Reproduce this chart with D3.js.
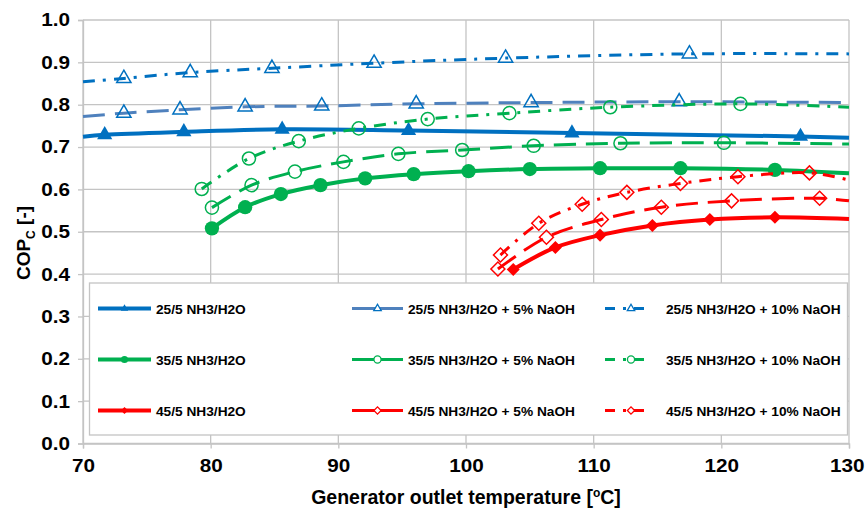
<!DOCTYPE html>
<html>
<head>
<meta charset="utf-8">
<script src="https://cdn.jsdelivr.net/npm/d3@7"></script>
<style>
body { margin: 0; background: #fff; }
text { font-family: Arial, "Liberation Sans", sans-serif; font-weight: bold; fill: #000; }
</style>
</head>
<body>
<div id="chart"></div>
<script>
// axis ticks
var xTicks = [70, 80, 90, 100, 110, 120, 130];
var yTicks = [0, 0.1, 0.2, 0.3, 0.4, 0.5, 0.6, 0.7, 0.8, 0.9, 1.0];

// 25/5 NH3/H2O
var t25 = [71.7, 77.9, 85.6, 95.5, 108.3, 126.2];
var c25 = [0.729, 0.736, 0.742, 0.739, 0.733, 0.725];
var lead25 = [70, 0.7245], tail25 = [130, 0.722];
// 25/5 + 5% NaOH
var t25n5 = [73.2, 77.6, 82.7, 88.7, 96.1, 105.1, 116.7];
var c25n5 = [0.780, 0.788, 0.795, 0.797, 0.802, 0.805, 0.807];
var lead25n5 = [70, 0.772], tail25n5 = [130, 0.805];
// 25/5 + 10% NaOH
var t25n10 = [73.2, 78.4, 84.8, 92.8, 103.1, 117.5];
var c25n10 = [0.862, 0.876, 0.886, 0.898, 0.910, 0.920];
var lead25n10 = [70, 0.854], tail25n10 = [130, 0.920];

// 35/5 NH3/H2O
var t35 = [80.1, 82.7, 85.5, 88.6, 92.1, 95.9, 100.2, 105.0, 110.5, 116.8, 124.2];
var c35 = [0.508, 0.558, 0.589, 0.610, 0.626, 0.636, 0.643, 0.648, 0.650, 0.650, 0.646];
var tail35 = [130, 0.638];
// 35/5 + 5% NaOH
var t35n5 = [80.1, 83.2, 86.6, 90.4, 94.7, 99.7, 105.3, 112.1, 120.2];
var c35n5 = [0.557, 0.610, 0.642, 0.665, 0.684, 0.693, 0.703, 0.709, 0.710];
var tail35n5 = [130, 0.707];
// 35/5 + 10% NaOH
var t35n10 = [79.3, 83.0, 86.9, 91.6, 97.0, 103.4, 111.3, 121.5];
var c35n10 = [0.601, 0.673, 0.714, 0.744, 0.766, 0.780, 0.794, 0.802];
var tail35n10 = [130, 0.794];

// 45/5 NH3/H2O
var t45 = [103.7, 107.0, 110.5, 114.6, 119.1, 124.2];
var c45 = [0.411, 0.463, 0.492, 0.515, 0.529, 0.534];
var tail45 = [130, 0.530];
// 45/5 + 5% NaOH
var t45n5 = [102.5, 106.3, 110.6, 115.3, 120.8, 127.7];
var c45n5 = [0.412, 0.487, 0.529, 0.558, 0.573, 0.579];
var tail45n5 = [130, 0.573];
// 45/5 + 10% NaOH
var t45n10 = [102.7, 105.7, 109.1, 112.6, 116.8, 121.3, 126.9];
var c45n10 = [0.445, 0.520, 0.565, 0.593, 0.614, 0.630, 0.639];
var tail45n10 = [130, 0.622];

var labels = [
  "25/5 NH3/H2O", "25/5 NH3/H2O + 5% NaOH", "25/5 NH3/H2O + 10% NaOH",
  "35/5 NH3/H2O", "35/5 NH3/H2O + 5% NaOH", "35/5 NH3/H2O + 10% NaOH",
  "45/5 NH3/H2O", "45/5 NH3/H2O + 5% NaOH", "45/5 NH3/H2O + 10% NaOH"
];

var blue = "#0070C0", blueLight = "#4F81BD", green = "#00B050", red = "#FF0000";
var dashed = "22,10", dashDot = "12,8,3,8";

var series = [
  {t: t25, c: c25, lead: lead25, tail: tail25, line: blue, mark: blue, dash: null, w: 4, sym: "tri", filled: true},
  {t: t25n5, c: c25n5, lead: lead25n5, tail: tail25n5, line: blueLight, mark: blue, dash: dashed, w: 3, sym: "tri", filled: false},
  {t: t25n10, c: c25n10, lead: lead25n10, tail: tail25n10, line: blue, mark: blue, dash: dashDot, w: 3, sym: "tri", filled: false},
  {t: t35, c: c35, lead: null, tail: tail35, line: green, mark: green, dash: null, w: 4, sym: "circ", filled: true},
  {t: t35n5, c: c35n5, lead: null, tail: tail35n5, line: green, mark: green, dash: dashed, w: 3, sym: "circ", filled: false},
  {t: t35n10, c: c35n10, lead: null, tail: tail35n10, line: green, mark: green, dash: dashDot, w: 3, sym: "circ", filled: false},
  {t: t45, c: c45, lead: null, tail: tail45, line: red, mark: red, dash: null, w: 4, sym: "dia", filled: true},
  {t: t45n5, c: c45n5, lead: null, tail: tail45n5, line: red, mark: red, dash: dashed, w: 3, sym: "dia", filled: false},
  {t: t45n10, c: c45n10, lead: null, tail: tail45n10, line: red, mark: red, dash: dashDot, w: 3, sym: "dia", filled: false}
];
series.forEach(function(s, i) { s.label = labels[i]; });

var width = 867, height = 512;
var svg = d3.select("#chart").append("svg")
    .attr("width", width)
    .attr("height", height);

var x = d3.scaleLinear().domain([70, 130]).range([83, 849]);
var y = d3.scaleLinear().domain([0, 1]).range([443.5, 20]);

var gridColor = "#c4c4c4";

// grid
svg.append("g").selectAll("line.h").data(yTicks).enter().append("line")
    .attr("x1", x(70)).attr("x2", x(130))
    .attr("y1", function(d) { return y(d); }).attr("y2", function(d) { return y(d); })
    .style("stroke", gridColor).style("stroke-width", 1.3);
svg.append("g").selectAll("line.v").data(xTicks).enter().append("line")
    .attr("x1", function(d) { return x(d); }).attr("x2", function(d) { return x(d); })
    .attr("y1", y(1)).attr("y2", y(0))
    .style("stroke", gridColor).style("stroke-width", 1.3);

// axes
var xAxis = svg.append("g")
    .attr("transform", "translate(0," + y(0) + ")")
    .call(d3.axisBottom(x).tickValues(xTicks).tickSize(5).tickPadding(10).tickFormat(d3.format("d")));
var yAxis = svg.append("g")
    .attr("transform", "translate(" + x(70) + ",0)")
    .call(d3.axisLeft(y).tickValues(yTicks).tickSize(5).tickPadding(9).tickFormat(d3.format(".1f")));
[xAxis, yAxis].forEach(function(a) {
  a.select(".domain").style("stroke", gridColor).style("stroke-width", 1.3);
  a.selectAll(".tick line").style("stroke", gridColor).style("stroke-width", 1.3);
  a.selectAll(".tick text")
    .style("font-family", "Arial, 'Liberation Sans', sans-serif")
    .style("font-weight", "bold")
    .style("font-size", "18.5px")
    .style("fill", "#000")
    .attr("transform", "scale(1.12,1)");
});
// keep the right edge of the stretched y labels at x = 70
yAxis.selectAll(".tick text").attr("x", -13 / 1.12);
// last x label hugs the right edge
xAxis.selectAll(".tick text").filter(function(d) { return d === 130; }).attr("x", -2);

// axis titles
svg.append("text")
    .attr("x", 466).attr("y", 504)
    .attr("text-anchor", "middle")
    .style("font-size", "19.5px")
    .html('Generator outlet temperature [<tspan dy="-7" font-size="12px">o</tspan><tspan dy="7">C]</tspan>');
svg.append("text")
    .attr("transform", "translate(30,243) rotate(-90)")
    .attr("text-anchor", "middle")
    .style("font-size", "19px")
    .html('COP<tspan dy="5" font-size="12px">C</tspan><tspan dy="-5"> [-]</tspan>');

function symPath(kind, big, filled) {
  if (kind === "tri") return d3.symbol(d3.symbolTriangle, big ? (filled ? 100 : 88) : 24)();
  if (kind === "circ") return d3.symbol(d3.symbolCircle, big ? (filled ? 160 : 135) : 40)();
  return d3.symbol(d3.symbolSquare, big ? (filled ? 85 : 98) : 26)();
}

var line = d3.line()
    .x(function(d) { return x(d[0]); })
    .y(function(d) { return y(d[1]); })
    .curve(d3.curveCatmullRom.alpha(0.5));

series.forEach(function(s) {
  var pts = s.t.map(function(t, i) { return [t, s.c[i]]; });
  var linePts = (s.lead ? [s.lead] : []).concat(pts).concat([s.tail]);
  var g = svg.append("g");
  g.append("path")
      .datum(linePts)
      .attr("d", line)
      .style("fill", "none")
      .style("stroke", s.line)
      .style("stroke-width", s.w)
      .style("stroke-dasharray", s.dash);
  g.selectAll("path.m").data(pts).enter().append("path")
      .attr("d", symPath(s.sym, true, s.filled))
      .attr("transform", function(d) {
        return "translate(" + x(d[0]) + "," + y(d[1]) + ")" + (s.sym === "dia" ? " rotate(45)" : "");
      })
      .style("fill", s.filled ? s.mark : "#fff")
      .style("fill-opacity", s.filled ? 1 : 0)
      .style("stroke", s.mark)
      .style("stroke-width", s.filled ? 0 : 1.5);
});

// legend
var legend = svg.append("g");
legend.append("rect")
    .attr("x", 89.5).attr("y", 283)
    .attr("width", 758).attr("height", 152)
    .style("fill", "#fff")
    .style("stroke", gridColor)
    .style("stroke-width", 1.3);

var colX = [98, 352, 605];
var rowY = [308.5, 359.5, 410.5];
series.forEach(function(s, i) {
  var col = i % 3, row = Math.floor(i / 3);
  var lx = colX[col], ly = rowY[row];
  var lw = col === 0 ? 53 : (col === 1 ? 51 : 42);
  var item = legend.append("g");
  item.append("line")
      .attr("x1", lx).attr("x2", lx + lw)
      .attr("y1", ly).attr("y2", ly)
      .style("stroke", s.line)
      .style("stroke-width", col === 0 ? 4 : 3)
      .style("stroke-dasharray", s.dash ? (col === 2 ? "10,8,3,8" : null) : null);
  item.append("path")
      .attr("d", symPath(s.sym, false, s.filled))
      .attr("transform", "translate(" + (lx + lw / 2 + (col === 2 ? 5 : 0)) + "," + ly + ")" + (s.sym === "dia" ? " rotate(45)" : ""))
      .style("fill", s.filled ? s.mark : "#fff")
      .style("stroke", s.mark)
      .style("stroke-width", s.filled ? 0 : 1.3);
  item.append("text")
      .attr("x", lx + lw + 5 + (col === 2 ? 14 : 0))
      .attr("y", ly + 5)
      .style("font-size", "13.7px")
      .text(s.label);
});
</script>
</body>
</html>
